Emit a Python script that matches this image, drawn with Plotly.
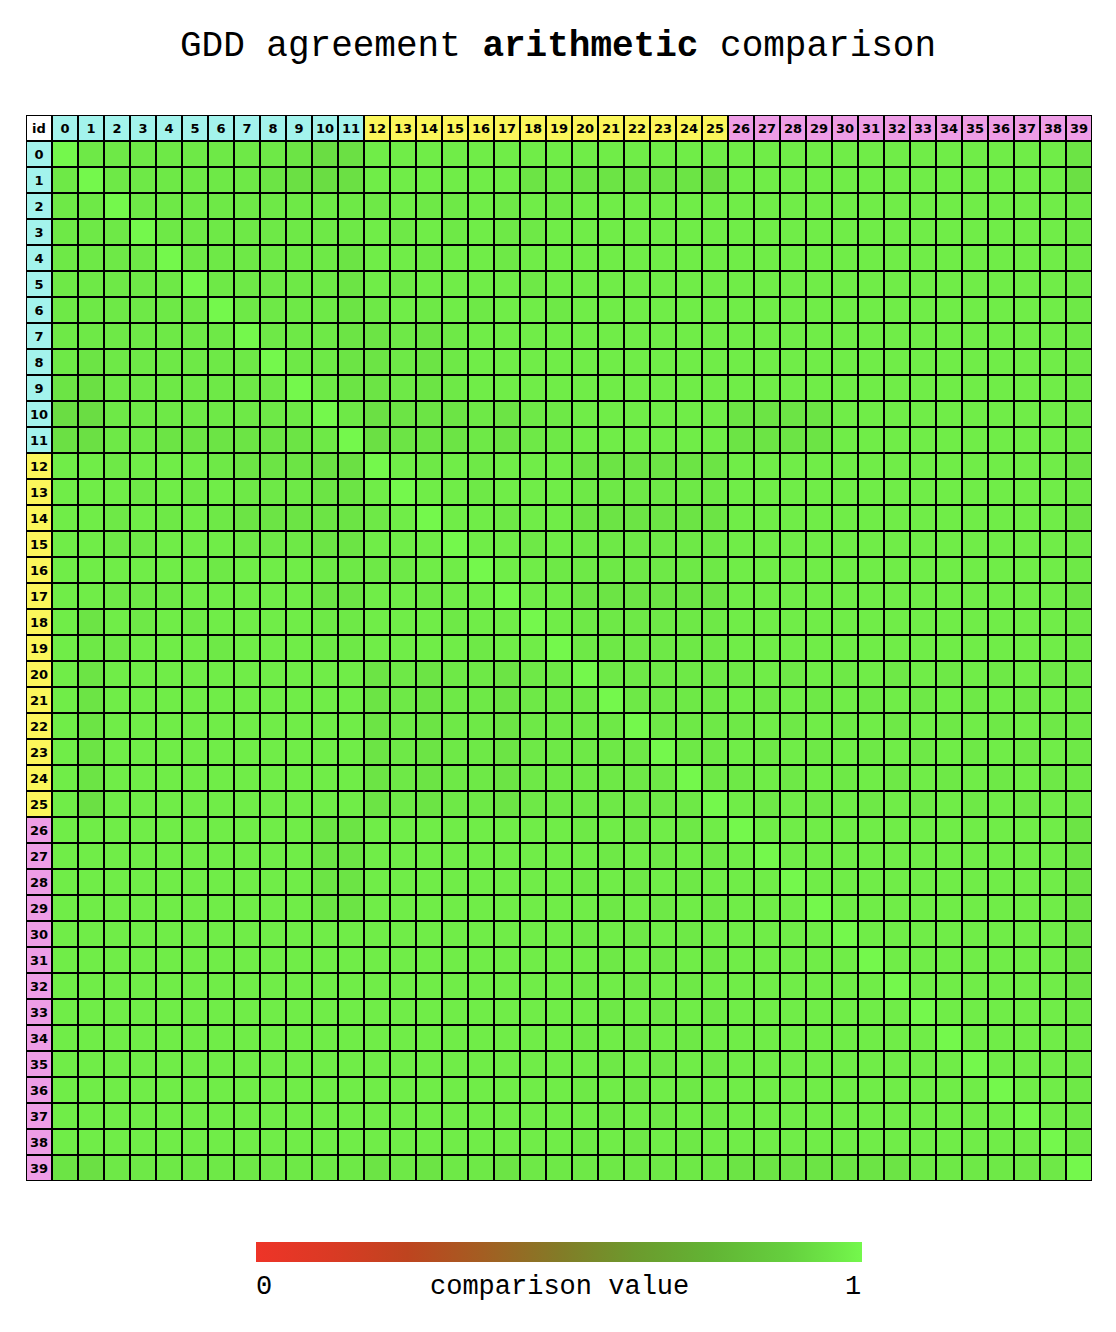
import plotly.graph_objects as go

# ---------------- data ----------------
ids = list(range(40))
# group of each id: 1 = cyan (0-11), 2 = yellow (12-25), 3 = pink (26-39)
groups = [1] * 12 + [2] * 14 + [3] * 14

# upper-triangle readings (row i, columns i+1..39); digit = shade level
upper_rows = [
    "66666666" "5" "3" "4" "77777777" + "7" * 19 + "5",
    "666666" "5" "4" "3" "4" "777777" "5" "6" "555554" + "7" * 13 + "4",
    "666666666" "67667676" + "7" * 19 + "6",
    "66666666" "76767667" + "7" * 19 + "6",
    "6666665" "77677677" + "7" * 19 + "6",
    "666665" "76777767" + "7" * 19 + "6",
    "66665" "67676776" + "7" * 19 + "6",
    "6665" "56567777" + "7" * 19 + "6",
    "665" "56567777" + "7" * 19 + "6",
    "65" "56567777" + "7" * 19 + "6",
    "6" "45556566" "777777" "5555" + "7" * 9 + "6",
    "45556566" "777777" "5555" + "7" * 9 + "6",
    "7676777" "555555" + "7" * 13 + "5",
    "776777" "666666" + "7" * 13 + "6",
    "77677" "555555" + "7" * 13 + "5",
    "7767" "666666" + "7" * 13 + "6",
    "776" "666666" + "7" * 13 + "6",
    "77" "555555" + "7" * 13 + "5",
    "7" "666666" + "7" * 13 + "6",
    "666666" + "7" * 13 + "6",
    "66666" "6767676767676" "6",
    "6666" "7676767676767" "6",
    "666" "6767676767676" "6",
    "66" "7676767676767" "6",
    "6" "6767676767676" "6",
    "7676767676767" "6",
    "777777777777" "5",
    "77777777777" "5",
    "7777777777" "5",
    "777777777" "5",
    "77777777" "5",
    "7777777" "5",
    "777777" "5",
    "77777" "6",
    "7777" "6",
    "777" "6",
    "77" "6",
    "7" "6",
    "6",
    "",
]
level_value = {"3": 0.92, "4": 0.93, "5": 0.943, "6": 0.956, "7": 0.968, "8": 0.98, "9": 1.0}
diag_value = 1.0

n = len(ids)
z = [[None] * n for _ in range(n)]
for i in range(n):
    z[i][i] = diag_value
    for k, ch in enumerate(upper_rows[i]):
        j = i + 1 + k
        z[i][j] = level_value[ch]
        z[j][i] = level_value[ch]

# ---------------- header cells ----------------
hx = [-1] + ids
hz = [[None] * (n + 1) for _ in range(n + 1)]
ht = [[""] * (n + 1) for _ in range(n + 1)]
hz[0][0] = 0
ht[0][0] = "id"
for k in range(n):
    hz[0][k + 1] = groups[k]
    ht[0][k + 1] = str(ids[k])
    hz[k + 1][0] = groups[k]
    ht[k + 1][0] = str(ids[k])

header_scale = [
    [0.0, "#ffffff"], [0.125, "#ffffff"],
    [0.125, "#a3f3ec"], [0.5, "#a3f3ec"],
    [0.5, "#fbf65b"], [0.83, "#fbf65b"],
    [0.83, "#ee9de6"], [1.0, "#ee9de6"],
]

value_scale = [
    [0.0, "#ee3428"], [0.125, "#da3a24"], [0.25, "#be441f"], [0.375, "#a35e22"],
    [0.5, "#837b27"], [0.625, "#6c9a2d"], [0.75, "#62b434"], [0.875, "#65cf3e"],
    [0.94, "#6ce345"], [1.0, "#74f84c"],
]

W, H = 1116, 1332
ML, MR, MT, MB = 26, 24, 115, 151
PH = H - MT - MB


def py(ypix):
    return (H - MB - ypix) / PH


def px(xpix):
    return (xpix - ML) / (W - ML - MR)


fig = go.Figure()
fig.add_trace(go.Heatmap(
    x=ids, y=ids, z=z, zmin=0, zmax=1, colorscale=value_scale,
    xgap=2, ygap=2, hoverongaps=False,
    colorbar=dict(
        orientation="h", x=0.5, xanchor="center", y=py(1242), yanchor="top",
        lenmode="pixels", len=606, thickness=20, xpad=0, ypad=0,
        outlinewidth=0, showticklabels=False, ticks="",
    ),
))
fig.add_trace(go.Heatmap(
    x=hx, y=hx, z=hz, zmin=0, zmax=3, colorscale=header_scale, showscale=False,
    xgap=2, ygap=2, text=ht, texttemplate="%{text}", hoverongaps=False,
    textfont=dict(family="DejaVu Sans", size=13, color="black", weight="bold"),
))

fig.add_shape(type="rect", xref="x", yref="y", x0=-1.5, x1=39.5, y0=-1.5, y1=39.5,
              line=dict(color="black", width=2), fillcolor="rgba(0,0,0,0)")

mono = "Liberation Mono, Courier New, monospace"
for txt, xp in [("0", 264), ("comparison value", 559), ("1", 853)]:
    fig.add_annotation(text=txt, xref="paper", yref="paper", x=px(xp), y=py(1287),
                       xanchor="center", yanchor="middle", showarrow=False,
                       font=dict(family=mono, size=27, color="black"))

fig.update_layout(
    width=W, height=H,
    margin=dict(l=ML, r=MR, t=MT, b=MB),
    paper_bgcolor="white", plot_bgcolor="black",
    title=dict(text="GDD agreement <b>arithmetic</b> comparison", x=0.5, xanchor="center",
               y=1 - 43 / H, yref="container", yanchor="middle",
               font=dict(family=mono, size=36, color="black")),
    xaxis=dict(range=[-1.5, 39.5], showticklabels=False, showgrid=False, zeroline=False,
               ticks="", fixedrange=True),
    yaxis=dict(range=[39.5, -1.5], showticklabels=False, showgrid=False, zeroline=False,
               ticks="", fixedrange=True),
    showlegend=False,
)

fig.write_html("out.html")
